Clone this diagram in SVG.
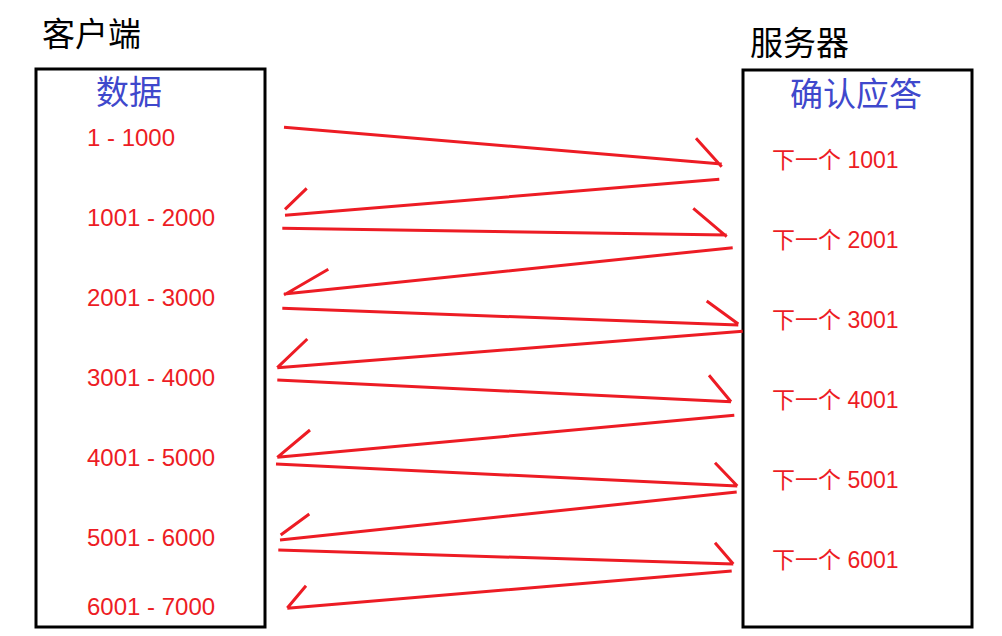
<svg xmlns="http://www.w3.org/2000/svg" width="1002" height="636" viewBox="0 0 1002 636">
<style>
.box{fill:none;stroke:#000;stroke-width:3}
.title{font-family:"Liberation Sans","Noto Sans CJK SC",sans-serif;font-size:33px;fill:#000}
.head{font-family:"Liberation Sans","Noto Sans CJK SC",sans-serif;font-size:33px;fill:#3F48CC}
.lbl{font-family:"Liberation Sans","Noto Sans CJK SC",sans-serif;font-size:24px;fill:#ED1C24}
.ack{font-family:"Liberation Sans","Noto Sans CJK SC",sans-serif;font-size:23px;fill:#ED1C24}
.conn path{fill:none;stroke:#ED1C24;stroke-width:3;stroke-linecap:butt}
</style>
<rect width="1002" height="636" fill="#fff"/>
<g id="client">
<text class="title" x="42" y="46">客户端</text>
<rect class="box" x="36" y="69" width="229" height="558"/>
<text class="head" x="96" y="104">数据</text>
<text class="lbl" x="87" y="146">1 - 1000</text>
<text class="lbl" x="87" y="226">1001 - 2000</text>
<text class="lbl" x="87" y="306">2001 - 3000</text>
<text class="lbl" x="87" y="386">3001 - 4000</text>
<text class="lbl" x="87" y="466">4001 - 5000</text>
<text class="lbl" x="87" y="546">5001 - 6000</text>
<text class="lbl" x="87" y="615">6001 - 7000</text>
</g>
<g id="server">
<text class="title" x="750" y="55">服务器</text>
<rect class="box" x="743" y="70" width="229" height="557"/>
<text class="head" x="790" y="106">确认应答</text>
<text class="ack" x="772" y="168">下一个 1001</text>
<text class="ack" x="772" y="248">下一个 2001</text>
<text class="ack" x="772" y="328">下一个 3001</text>
<text class="ack" x="772" y="408">下一个 4001</text>
<text class="ack" x="772" y="488">下一个 5001</text>
<text class="ack" x="772" y="568">下一个 6001</text>
</g>
<g id="connectors" class="conn">
<path d="M284 127.3 L721.7 164 M696 138.3 L721.7 166.7"/>
<path d="M719.3 179.3 L285 215.3 M306.7 188.3 L285 209.3"/>
<path d="M282.3 228.3 L726.7 235 M693.3 208.3 L726.7 236.7"/>
<path d="M732.7 247.7 L284 294 M328.3 269.3 L284 295"/>
<path d="M282.3 308.3 L738.3 325 M706.7 301 L738.3 324"/>
<path d="M742.7 331.3 L277.3 367.7 M307.3 339 L277.3 367.7"/>
<path d="M277.3 380 L731 401.7 M709 375.3 L731 401.7"/>
<path d="M734.3 415.3 L277.3 457.3 M310 430 L277.3 457.3"/>
<path d="M276 464 L737.3 486 M715 462.7 L737.3 486"/>
<path d="M736.7 492 L280 540 M309.3 514 L280.7 535"/>
<path d="M278.3 550 L733.3 564 M715 542.7 L733.3 564"/>
<path d="M731.7 571 L287.3 608.3 M306 585.7 L287.3 608"/>
</g>
</svg>
